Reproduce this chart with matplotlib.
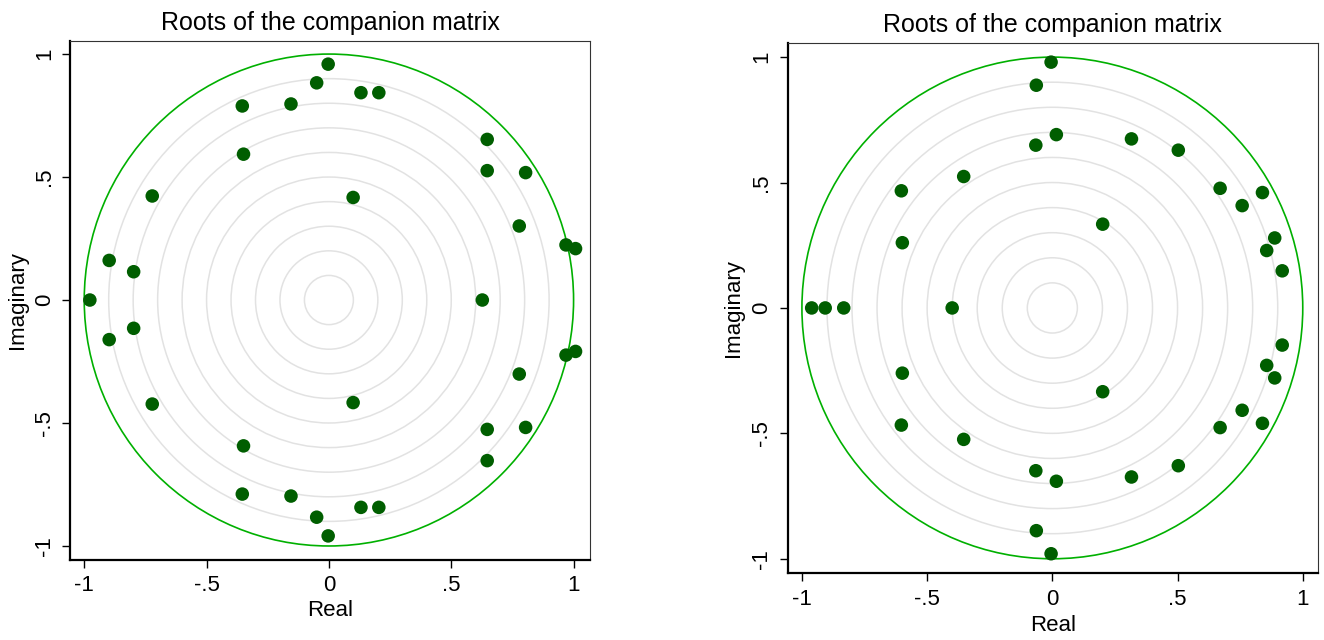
import numpy as np
import matplotlib
matplotlib.use('Agg')
import matplotlib.pyplot as plt
from matplotlib.patches import Circle

plt.rcParams['font.family'] = ['Liberation Sans', 'DejaVu Sans']

# roots of the companion matrix, left panel
left_real = [-0.977, 0.627,
             -0.003, -0.05, -0.354, -0.155, -0.349, -0.722, -0.898, -0.798,
             0.131, 0.204, 0.647, 0.647, 0.804, 0.099, 0.778, 0.969, 1.008,
             -0.003, -0.05, -0.354, -0.155, -0.349, -0.722, -0.898, -0.798,
             0.131, 0.204, 0.647, 0.647, 0.804, 0.099, 0.778, 0.969, 1.008]
left_imag = [0.0, 0.0,
             0.959, 0.883, 0.789, 0.797, 0.593, 0.423, 0.161, 0.115,
             0.843, 0.843, 0.653, 0.526, 0.518, 0.417, 0.301, 0.224, 0.209,
             -0.959, -0.883, -0.789, -0.797, -0.593, -0.423, -0.161, -0.115,
             -0.843, -0.843, -0.653, -0.526, -0.518, -0.417, -0.301, -0.224, -0.209]

# roots of the companion matrix, right panel
right_real = [-0.961, -0.907, -0.833, -0.400,
              -0.603, -0.599, -0.354, -0.005, -0.064, 0.016, -0.066, 0.316,
              0.503, 0.670, 0.839, 0.758, 0.201, 0.888, 0.856, 0.918,
              -0.603, -0.599, -0.354, -0.005, -0.064, 0.016, -0.066, 0.316,
              0.503, 0.670, 0.839, 0.758, 0.201, 0.888, 0.856, 0.918]
right_imag = [0.0, 0.0, 0.0, 0.0,
              0.467, 0.260, 0.524, 0.980, 0.888, 0.691, 0.649, 0.674,
              0.629, 0.477, 0.460, 0.408, 0.334, 0.279, 0.229, 0.148,
              -0.467, -0.260, -0.524, -0.980, -0.888, -0.691, -0.649, -0.674,
              -0.629, -0.477, -0.460, -0.408, -0.334, -0.279, -0.229, -0.148]

ticks = [-1, -0.5, 0, 0.5, 1]
tick_labels = ['-1', '-.5', '0', '.5', '1']
ring_radii = [0.1, 0.2, 0.3, 0.4, 0.5, 0.6, 0.7, 0.8, 0.9]

fig = plt.figure(figsize=(13.24, 6.4), dpi=100)
ax1 = fig.add_axes([0.0529, 0.125, 0.3927, 0.8109])
ax2 = fig.add_axes([0.5949, 0.1042, 0.4006, 0.8281])


def draw_panel(ax, re, im, xlim, ylim, xpad, ypad):
    for r in ring_radii:
        ax.add_patch(Circle((0, 0), r, fill=False, ec='#e2e2e2', lw=1.1, zorder=1))
    ax.add_patch(Circle((0, 0), 1.0, fill=False, ec='#00b000', lw=1.2, zorder=2))
    ax.scatter(re, im, s=95, color='#005e00', edgecolors='none', zorder=3)
    ax.set_xlim(*xlim)
    ax.set_ylim(*ylim)
    ax.set_xticks(ticks)
    ax.set_xticklabels(tick_labels)
    ax.set_yticks(ticks)
    ax.set_yticklabels(tick_labels, rotation=90, va='center')
    ax.tick_params(direction='out', length=6, width=1.0, labelsize=16, pad=5)
    ax.set_xlabel('Real', fontsize=16, labelpad=xpad)
    ax.set_ylabel('Imaginary', fontsize=16, labelpad=ypad)
    ax.set_title('Roots of the companion matrix', fontsize=18, pad=8)
    for s in ['left', 'bottom']:
        ax.spines[s].set_linewidth(1.6)
    for s in ['top', 'right']:
        ax.spines[s].set_linewidth(0.8)
        ax.spines[s].set_color('#333333')


draw_panel(ax1, left_real, left_imag, (-1.058, 1.067), (-1.057, 1.053), 3, 4)
draw_panel(ax2, right_real, right_imag, (-1.057, 1.061), (-1.058, 1.055), 4, 5)

fig.savefig('out.png', dpi=100)
